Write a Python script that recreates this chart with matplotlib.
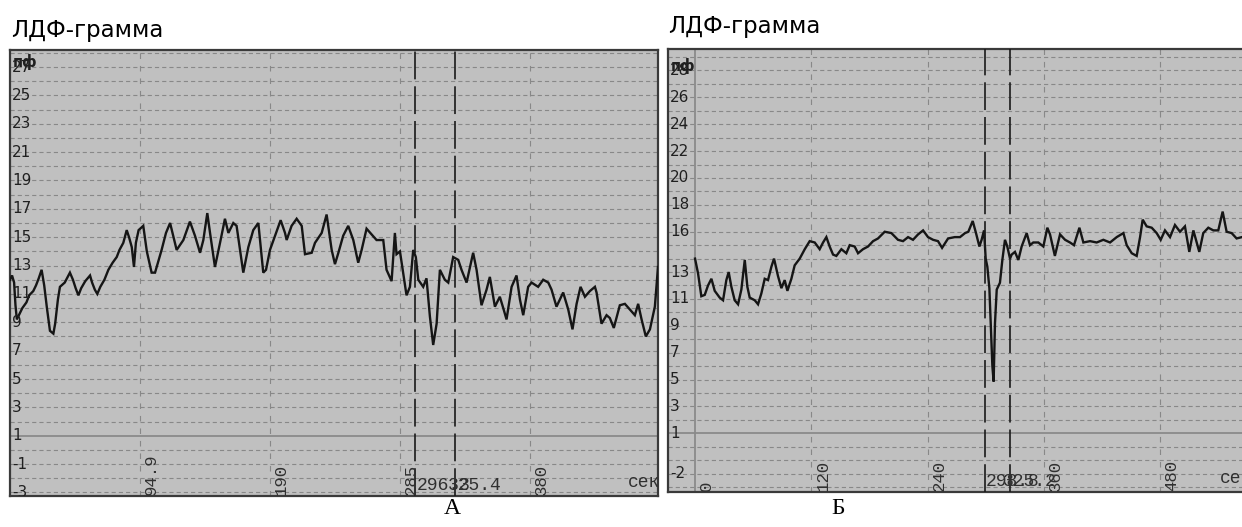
import matplotlib.pyplot as plt
from matplotlib.transforms import offset_copy, blended_transform_factory

plt.rcParams['lines.scale_dashes'] = False

# ---- panel A (left): LDF trace, seconds vs perfusion units
time_a = [0, 1.5, 3, 4, 5, 7, 9, 12, 14, 17, 19, 21, 23.1, 25, 27, 29.2, 31.7, 33, 35, 36.5,
          40, 43.8, 46, 48, 50, 52, 55, 58.5, 60, 62, 63.8, 66, 69, 71.9, 75, 78, 80, 82.8,
          85.3, 87, 89, 90.6, 92, 94, 97.4, 100, 103.5, 106, 110.8, 114, 117, 119, 121.8,
          126.7, 131.5, 135.2, 138.9, 141.3, 144.2, 146.2, 149.8, 153.5, 157.1, 159.6, 163.2,
          165.6, 168.1, 170.5, 174.2, 177.8, 181.5, 185.1, 187.1, 190, 193.7, 197.8, 201,
          202.2, 205.8, 209.5, 213.2, 215.6, 220.5, 222.9, 227.8, 231.4, 235.1, 237.5, 240,
          243.5, 247.2, 250.9, 254.5, 257, 260.6, 264.3, 267.9, 272.8, 275.2, 278.9, 281.3,
          282.5, 285, 289.8, 292.3, 294.7, 296.6, 298.4, 302, 304.4, 306.9, 309.3, 311.8,
          314.2, 317.8, 320.3, 323.9, 327.6, 330, 333.7, 338.5, 341, 344.6, 348.3, 350.7,
          354.4, 358, 360.5, 362.9, 366.6, 370.2, 372.7, 375.1, 378.7, 381.2, 386, 389.7,
          393.4, 395.8, 399.4, 404.3, 408, 411.1, 414.1, 417, 420.2, 423.8, 427.5, 428.7,
          432.3, 436, 438.4, 441.3, 445.7, 449.4, 453, 456.7, 459.1, 461.6, 464.7, 467.7,
          471.3, 473.6]
ldf_a = [12.0, 12.3, 11.8, 10.2, 9.2, 9.6, 10.0, 10.4, 10.9, 11.2, 11.6, 12.1, 12.7, 11.6,
         10.0, 8.4, 8.2, 8.9, 10.6, 11.5, 11.8, 12.5, 12.0, 11.4, 10.9, 11.4, 11.9, 12.3, 11.8,
         11.3, 11.0, 11.5, 12.0, 12.7, 13.2, 13.6, 14.1, 14.6, 15.5, 15.0, 14.3, 12.9, 14.6,
         15.5, 15.8, 14.0, 12.5, 12.5, 14.1, 15.3, 16.0, 15.2, 14.1, 14.8, 16.1, 15.1, 13.9,
         14.8, 16.7, 15.3, 12.9, 14.6, 16.3, 15.3, 16.0, 15.8, 14.1, 12.5, 14.3, 15.5, 16.0,
         12.5, 12.7, 14.1, 15.1, 16.2, 15.3, 14.8, 15.8, 16.3, 15.8, 13.8, 13.9, 14.6, 15.3,
         16.6, 14.1, 13.1, 13.9, 15.1, 15.8, 14.8, 13.2, 14.1, 15.6, 15.2, 14.8, 14.8, 12.7,
         11.9, 15.3, 13.8, 14.0, 10.9, 11.5, 14.1, 13.6, 12.0, 11.5, 12.1, 9.4, 7.4, 8.9,
         12.7, 12.0, 11.8, 13.6, 13.4, 12.7, 11.8, 13.9, 12.7, 10.2, 11.3, 12.2, 10.1, 10.8,
         10.0, 9.2, 11.5, 12.3, 10.6, 9.5, 11.5, 11.8, 11.5, 12.0, 11.8, 11.3, 10.1, 11.1,
         9.9, 8.5, 10.3, 11.5, 10.8, 11.2, 11.5, 11.1, 8.9, 9.5, 9.3, 8.6, 10.2, 10.3, 9.9,
         9.5, 10.3, 9.2, 8.0, 8.5, 10.1, 12.9]
xticks_a = [94.9, 190, 285, 380]
xlabels_a = ['94.9', '190', '285', '380']
yticks_a = [27, 25, 23, 21, 19, 17, 15, 13, 11, 9, 7, 5, 3, 1, -1, -3]
markers_a = [296.3, 325.4]
marker_labels_a = ['296.3', '325.4']

# ---- panel Б (right)
time_b = [0, 3.1, 6.5, 10.0, 13.4, 16.9, 20.3, 25.4, 28.9, 32.3, 34.7, 37.5, 40.9, 44.4,
          47.8, 51.3, 54.0, 56.4, 61.6, 65.0, 68.4, 71.9, 75.3, 78.8, 81.5, 85.6, 89.1, 92.5,
          95.3, 99.4, 102.8, 108.0, 113.2, 118.3, 123.5, 128.6, 132.1, 135.5, 138.9, 142.4,
          145.8, 151.0, 156.1, 159.6, 164.7, 168.2, 173.3, 178.5, 183.7, 188.8, 195.7, 202.6,
          209.4, 214.6, 219.8, 224.9, 230.1, 235.3, 240.4, 245.6, 250.7, 254.9, 261.1, 268.0,
          273.4, 278.6, 282.0, 286.5, 289.9, 293.4, 295.7, 298.2, 299.9, 301.6, 303.7, 305.4,
          306.8, 308.1, 309.5, 311.3, 314.6, 317.1, 319.8, 322.2, 325.0, 326.7, 330.1, 333.6,
          337.0, 342.2, 345.6, 349.0, 354.2, 359.4, 363.5, 366.3, 371.3, 376.6, 381.8, 386.9,
          391.0, 396.6, 400.7, 407.6, 414.4, 421.3, 428.2, 435.1, 442.0, 445.4, 450.6, 455.7,
          459.2, 461.9, 466.0, 471.2, 476.3, 480.5, 484.9, 490.1, 495.2, 500.4, 505.5, 510.0,
          514.2, 520.3, 524.4, 529.6, 534.8, 539.9, 544.4, 548.5, 553.7, 558.8, 564.3]
ldf_b = [14.0, 12.9, 11.2, 11.3, 12.0, 12.5, 11.6, 11.1, 10.9, 12.4, 13.0, 11.9, 10.9, 10.6,
         11.7, 13.9, 11.9, 11.1, 10.9, 10.6, 11.4, 12.5, 12.4, 13.4, 14.0, 12.7, 11.8, 12.4,
         11.6, 12.5, 13.5, 14.0, 14.7, 15.3, 15.2, 14.7, 15.2, 15.6, 14.9, 14.3, 14.2, 14.7,
         14.4, 15.0, 14.9, 14.4, 14.7, 14.9, 15.3, 15.5, 16.0, 15.9, 15.4, 15.3, 15.6, 15.4,
         15.8, 16.1, 15.6, 15.4, 15.3, 14.8, 15.5, 15.6, 15.6, 15.9, 16.0, 16.8, 15.9, 14.9,
         15.4, 16.1, 14.0, 13.4, 11.8, 8.5, 6.0, 4.85, 9.2, 11.7, 12.2, 13.9, 15.4, 14.9,
         14.0, 14.3, 14.5, 13.9, 14.9, 15.9, 15.0, 15.2, 15.2, 14.9, 16.3, 15.8, 14.2, 15.8,
         15.4, 15.2, 15.0, 16.3, 15.2, 15.3, 15.2, 15.4, 15.2, 15.6, 15.9, 15.0, 14.4, 14.2,
         15.6, 16.9, 16.4, 16.3, 15.9, 15.4, 16.1, 15.6, 16.5, 16.0, 16.4, 14.5, 16.1, 14.5,
         15.9, 16.3, 16.1, 16.1, 17.5, 16.0, 15.9, 15.5, 15.6]
xticks_b = [0, 120, 240, 360, 480]
xlabels_b = ['0', '120', '240', '360', '480']
yticks_b = [28, 26, 24, 22, 20, 18, 16, 13, 11, 9, 7, 5, 3, 1, -2]
markers_b = [298.8, 325.2]
marker_labels_b = ['298.8', '325.2']

W, H = 1242, 527
fig = plt.figure(figsize=(W / 100, H / 100), dpi=100)

bg = '#c0c0c0'
gridc = '#888888'
framec = '#3a3a3a'
mono = 'Liberation Mono'


def panel(rect, t, v, xlim, ylim, xticks, xlabels, yticks, markers, mlabels, zero_x):
    ax = fig.add_axes([rect[0] / W, 1 - rect[3] / H, (rect[2] - rect[0]) / W,
                       (rect[3] - rect[1]) / H])
    ax.set_facecolor(bg)
    ax.set_xlim(*xlim)
    ax.set_ylim(*ylim)
    ax.set_xticks([])
    ax.set_yticks([])
    for s in ax.spines.values():
        s.set_color(framec)
        s.set_linewidth(1.6)

    # horizontal grid every unit, solid base line at 1
    for y in range(int(ylim[0]) - 1, int(ylim[1]) + 1):
        if y == 1:
            ax.axhline(y, color='#8a8a8a', lw=1.3, zorder=1)
        else:
            ax.axhline(y, color=gridc, lw=0.8, ls=(0, (3.0, 2.2)), zorder=1)
    for x in xticks:
        if x == 0:
            continue
        ax.axvline(x, color=gridc, lw=0.8, ls=(0, (4.0, 5.0)), zorder=1)
    if zero_x is not None:
        ax.axvline(zero_x, color='#8a8a8a', lw=1.3, zorder=1)

    ax.plot(t, v, color='#151515', lw=1.7, solid_joinstyle='miter', zorder=3)

    for m in markers:
        ax.axvline(m, color='#1a1a1a', lw=1.2, ls=(0, (20, 5)), zorder=4)

    # y labels inside the frame
    ytr = offset_copy(blended_transform_factory(ax.transAxes, ax.transData), fig=fig,
                      x=2, y=0, units='dots')
    for y in yticks:
        ax.text(0, y, str(y), transform=ytr, ha='left', va='center', fontsize=11,
                family='DejaVu Sans', color='#202020', clip_on=True, zorder=5)

    # rotated x labels
    xtr = offset_copy(blended_transform_factory(ax.transData, ax.transAxes), fig=fig,
                      x=4, y=1, units='dots')
    for x, lab in zip(xticks, xlabels):
        ax.text(x, 0, lab, transform=xtr, rotation=90, ha='left', va='bottom',
                fontsize=12.5, family=mono, color='#303030', clip_on=True, zorder=5)

    # marker labels
    for m, lab, dx in zip(markers, mlabels, [1, -7]):
        mtr = offset_copy(blended_transform_factory(ax.transData, ax.transAxes), fig=fig,
                          x=dx, y=2, units='dots')
        ax.text(m, 0, lab, transform=mtr, ha='left', va='bottom', fontsize=13,
                family=mono, color='#303030', clip_on=True, zorder=5)

    return ax


ax1 = panel((10, 50, 658, 496), time_a, ldf_a, (0, 473.6), (-3.25, 28.2),
            xticks_a, xlabels_a, yticks_a, markers_a, marker_labels_a, None)
ax2 = panel((668, 49, 1246, 492), time_b, ldf_b, (-27.9, 568.5), (-3.37, 29.6),
            xticks_b, xlabels_b, yticks_b, markers_b, marker_labels_b, 0)

# unit label "пф" over the top tick
ax1.text(0.004, 27.35, 'пф', transform=blended_transform_factory(ax1.transAxes, ax1.transData),
         ha='left', va='center', fontsize=10.5, fontweight='bold', color='#202020', zorder=6)
ax2.text(0.004, 28.3, 'пф', transform=blended_transform_factory(ax2.transAxes, ax2.transData),
         ha='left', va='center', fontsize=10.5, fontweight='bold', color='#202020', zorder=6)

# "сек" bottom right
ax1.text(618 / 648, 0.012, 'сек', transform=ax1.transAxes, ha='left', va='bottom',
         fontsize=13, family=mono, color='#303030', clip_on=True, zorder=5)
ax2.text((1220 - 668) / 578, 0.012, 'сек', transform=ax2.transAxes, ha='left', va='bottom',
         fontsize=13, family=mono, color='#303030', clip_on=True, zorder=5)

# titles
fig.text(11 / W, 1 - 37 / H, 'ЛДФ-грамма', fontsize=16.5, family='DejaVu Sans',
         ha='left', va='baseline')
fig.text(668 / W, 1 - 33 / H, 'ЛДФ-грамма', fontsize=16.5, family='DejaVu Sans',
         ha='left', va='baseline')

# panel letters
fig.text(452 / W, 1 - 514 / H, 'А', fontsize=17, family='Liberation Serif',
         ha='center', va='baseline')
fig.text(838 / W, 1 - 514 / H, 'Б', fontsize=17, family='Liberation Serif',
         ha='center', va='baseline')

fig.savefig('out.png', dpi=100, facecolor='white')
